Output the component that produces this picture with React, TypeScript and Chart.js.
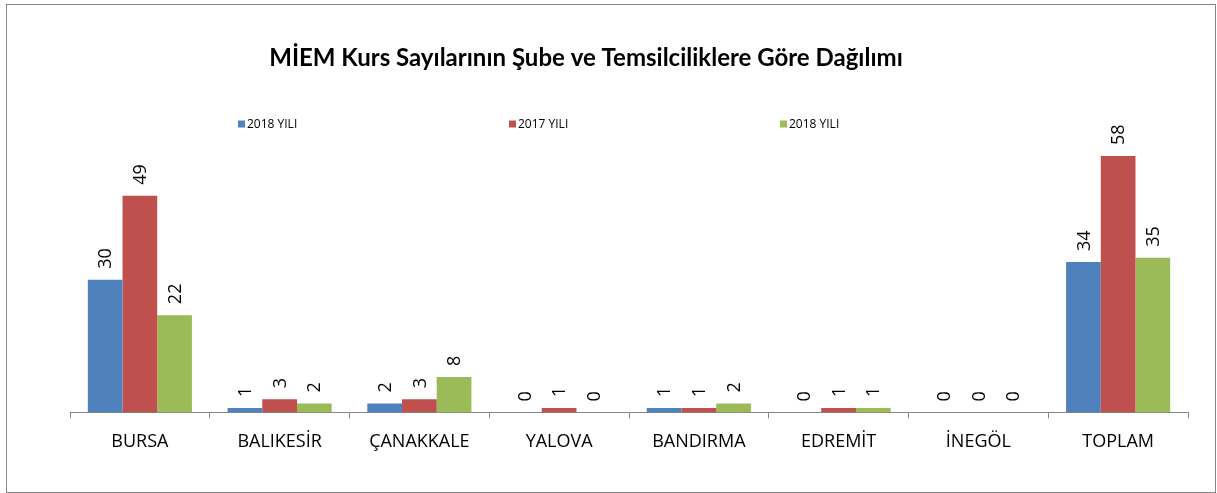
import React, { useEffect, useRef } from "react";
import { Chart, registerables } from "chart.js";

Chart.register(...registerables);

const titleText = "MİEM Kurs Sayılarının Şube ve Temsilciliklere Göre Dağılımı";
const categories = ["BURSA", "BALIKESİR", "ÇANAKKALE", "YALOVA", "BANDIRMA", "EDREMİT", "İNEGÖL", "TOPLAM"];
const seriesNames = ["2018 YILI", "2017 YILI", "2018 YILI"];
const values2018a = [30, 1, 2, 0, 1, 0, 0, 34];
const values2017 = [49, 3, 3, 1, 1, 1, 0, 58];
const values2018b = [22, 2, 8, 0, 2, 1, 0, 35];
const seriesColors = ["#4F81BD", "#C0504D", "#9BBB59"];

const TITLE_FONT = "Lato, 'Open Sans', sans-serif";
const FONT = "'Open Sans', Lato, sans-serif";

const valueLabelPlugin = {
  id: "valueLabels",
  afterDatasetsDraw(chart: any) {
    const ctx = chart.ctx;
    ctx.save();
    ctx.fillStyle = "#000";
    ctx.font = `18px ${FONT}`;
    ctx.textAlign = "left";
    ctx.textBaseline = "middle";
    chart.data.datasets.forEach((ds: any, di: number) => {
      const meta = chart.getDatasetMeta(di);
      meta.data.forEach((el: any, i: number) => {
        const v = ds.data[i];
        ctx.save();
        ctx.translate(el.x, el.y - 11);
        ctx.rotate(-Math.PI / 2);
        ctx.fillText(String(v), 0, 1);
        ctx.restore();
      });
    });
    ctx.restore();
  },
};

const titleAndLegendPlugin = {
  id: "titleAndLegend",
  afterDraw(chart: any, _args: any, opts: any) {
    const ctx = chart.ctx;
    ctx.save();
    ctx.fillStyle = "#000";
    ctx.font = `bold 24px ${TITLE_FONT}`;
    ctx.textAlign = "center";
    ctx.textBaseline = "middle";
    ctx.fillText(opts.title, opts.titleX, opts.titleY);

    ctx.font = `12px ${FONT}`;
    ctx.textBaseline = "middle";
    ctx.textAlign = "left";
    chart.data.datasets.forEach((ds: any, i: number) => {
      const x = opts.startX + i * opts.step;
      const y = opts.y;
      ctx.fillStyle = ds.backgroundColor;
      ctx.fillRect(x, y - 3.5, 7, 7);
      ctx.fillStyle = "#000";
      ctx.fillText(ds.label, x + 9, y + 0.5);
    });
    ctx.restore();
  },
};

export default function App() {
  const canvasRef = useRef<HTMLCanvasElement | null>(null);

  useEffect(() => {
    if (!canvasRef.current) return;
    const chart = new Chart(canvasRef.current, {
      type: "bar",
      data: {
        labels: categories,
        datasets: [
          { label: seriesNames[0], data: values2018a, backgroundColor: seriesColors[0] },
          { label: seriesNames[1], data: values2017, backgroundColor: seriesColors[1] },
          { label: seriesNames[2], data: values2018b, backgroundColor: seriesColors[2] },
        ],
      },
      options: {
        animation: false,
        responsive: false,
        maintainAspectRatio: false,
        layout: { padding: { left: 70, right: 29, top: 103, bottom: 27 } },
        datasets: { bar: { categoryPercentage: 0.745, barPercentage: 1 } },
        plugins: {
          legend: { display: false },
          tooltip: { enabled: false },
          title: { display: false },
          titleAndLegend: { title: titleText, titleX: 586, titleY: 58, startX: 238, step: 271, y: 124 },
        } as any,
        scales: {
          x: {
            offset: true,
            grid: {
              offset: true,
              drawOnChartArea: false,
              drawTicks: true,
              tickLength: 6,
              color: "#868686",
            },
            border: { display: true, color: "#868686" },
            ticks: {
              color: "#000",
              padding: 13,
              font: { family: FONT, size: 18 },
              maxRotation: 0,
              autoSkip: false,
            },
          },
          y: {
            display: false,
            min: 0,
            max: 70,
          },
        },
      },
      plugins: [valueLabelPlugin, titleAndLegendPlugin],
    });
    return () => chart.destroy();
  }, []);

  return (
    <div style={{ position: "fixed", left: 0, top: 0, width: 1217, height: 493, background: "#fff" }}>
      <canvas ref={canvasRef} width={1217} height={493} style={{ position: "absolute", left: 0, top: 0 }} />
      <div
        style={{
          position: "absolute",
          left: 6,
          top: 4,
          width: 1208,
          height: 487,
          border: "1px solid #868686",
          pointerEvents: "none",
        }}
      />
    </div>
  );
}
